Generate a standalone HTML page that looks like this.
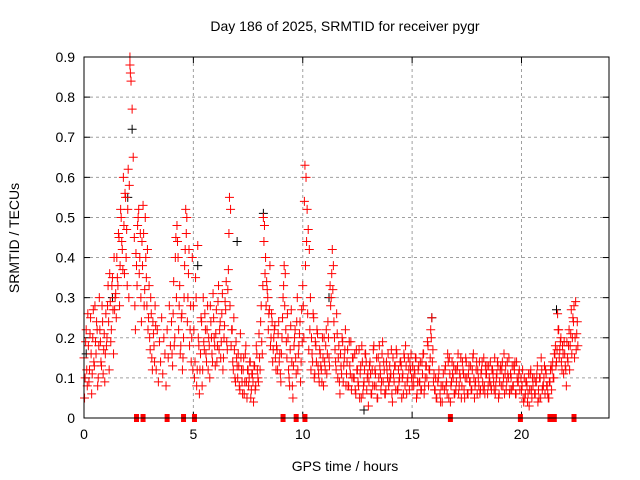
<!DOCTYPE html>
<html><head><meta charset="utf-8"><style>
body{margin:0;background:#fff}
svg{display:block;font-family:"Liberation Sans",sans-serif}
</style></head><body>
<svg id="chart" width="640" height="480">
<text x="345" y="31" text-anchor="middle" font-size="14">Day 186 of 2025, SRMTID for receiver pygr</text>
<text transform="translate(19,238) rotate(-90)" text-anchor="middle" font-size="14">SRMTID / TECUs</text>
<text x="345" y="471" text-anchor="middle" font-size="14">GPS time / hours</text>
<g id="grid"></g>
<g id="ticks"></g>
<g id="marks"></g>
<rect x="84" y="57" width="525" height="361" fill="none" stroke="#000" stroke-width="1"/>
</svg>
<script>
const xTicks=[0,5,10,15,20];
const yTicks=[0,0.1,0.2,0.3,0.4,0.5,0.6,0.7,0.8,0.9];
const times=[0.0,0.05,0.1,0.15,0.2,0.25,0.3,0.35,0.4,0.45,
0.5,0.55,0.6,0.65,0.7,0.75,0.8,0.85,0.9,0.95,
1.0,1.05,1.1,1.15,1.2,1.25,1.3,1.35,1.4,1.45,
1.5,1.55,1.6,1.65,1.7,1.75,1.8,1.85,1.9,1.95,
2.0,2.02,2.05,2.07,2.1,2.1,2.12,2.15,2.2,2.25,
2.3,2.35,2.4,2.45,2.5,2.55,2.6,2.65,2.7,2.75,
2.8,2.85,2.9,2.95,3.0,3.05,3.1,3.15,3.2,3.25,
3.3,3.35,3.4,3.45,3.5,3.55,3.6,3.65,3.7,3.75,
3.8,3.85,3.9,3.95,4.0,4.05,4.1,4.15,4.2,4.25,
4.3,4.35,4.4,4.45,4.5,4.55,4.6,4.65,4.7,4.75,
4.8,4.85,4.9,4.95,5.0,5.05,5.1,5.15,5.2,5.25,
5.3,5.35,5.4,5.45,5.5,5.55,5.6,5.65,5.7,5.75,
5.8,5.85,5.9,5.95,6.0,6.05,6.1,6.15,6.2,6.25,
6.3,6.35,6.4,6.45,6.5,6.55,6.6,6.65,6.7,6.75,
6.8,6.85,6.9,6.95,7.0,7.05,7.1,7.15,7.2,7.25,
7.3,7.35,7.4,7.45,7.5,7.55,7.6,7.65,7.7,7.75,
7.8,7.85,7.9,7.95,8.0,8.05,8.1,8.15,8.2,8.25,
8.3,8.35,8.4,8.45,8.5,8.55,8.6,8.65,8.7,8.75,
8.8,8.85,8.9,8.95,9.0,9.05,9.1,9.15,9.2,9.25,
9.3,9.35,9.4,9.45,9.5,9.55,9.6,9.65,9.7,9.75,
9.8,9.85,9.9,9.95,10.0,10.05,10.1,10.15,10.2,10.25,
10.3,10.35,10.4,10.45,10.5,10.55,10.6,10.65,10.7,10.75,
10.8,10.85,10.9,10.95,11.0,11.05,11.1,11.15,11.2,11.25,
11.3,11.35,11.4,11.45,11.5,11.55,11.6,11.65,11.7,11.75,
11.8,11.85,11.9,11.95,12.0,12.05,12.1,12.15,12.2,12.25,
12.3,12.4,12.5,12.6,12.7,12.8,12.9,13.0,13.1,13.2,
12.35,12.45,12.55,12.65,12.75,12.85,12.95,13.05,13.15,13.25,
13.3,13.4,13.5,13.6,13.7,13.8,13.9,14.0,14.1,14.2,
13.35,13.45,13.55,13.65,13.75,13.85,13.95,14.05,14.15,14.25,
14.3,14.4,14.5,14.6,14.7,14.8,14.9,15.0,15.1,15.2,
14.35,14.45,14.55,14.65,14.75,14.85,14.95,15.05,15.15,15.25,
15.3,15.4,15.5,15.6,15.7,15.8,15.85,15.9,15.95,16.0,
15.35,15.45,15.55,15.65,15.75,16.05,16.1,16.2,16.3,16.4,
16.5,16.6,16.7,16.8,16.9,17.0,17.1,17.2,17.3,17.4,
16.55,16.65,16.75,16.85,16.95,17.05,17.15,17.25,17.35,17.45,
17.5,17.6,17.7,17.8,17.9,18.0,18.1,18.2,18.3,18.4,
17.55,17.65,17.75,17.85,17.95,18.05,18.15,18.25,18.35,18.45,
18.5,18.6,18.7,18.8,18.9,19.0,19.1,19.2,19.3,19.4,
18.55,18.65,18.75,18.85,18.95,19.05,19.15,19.25,19.35,19.45,
19.5,19.6,19.7,19.8,19.9,20.0,20.1,20.2,20.3,20.4,
19.55,19.65,19.75,19.85,20.05,20.15,20.25,20.35,20.45,20.5,
20.6,20.7,20.8,20.9,21.0,21.1,21.2,21.3,21.4,21.5,
20.65,20.75,20.85,20.95,21.05,21.15,21.25,21.35,21.45,21.55,
21.6,21.65,21.7,21.75,21.8,21.85,21.9,21.95,22.0,22.05,
22.1,22.15,22.2,22.25,22.3,22.35,22.4,22.45,22.5,22.55];
const values=[0.15,0.10,0.22,0.08,0.18,0.12,0.25,0.06,0.20,0.14,
0.28,0.16,0.22,0.10,0.30,0.19,0.13,0.24,0.17,0.09,
0.26,0.20,0.33,0.12,0.29,0.22,0.35,0.16,0.27,0.31,
0.40,0.33,0.45,0.38,0.50,0.42,0.60,0.36,0.55,0.47,
0.52,0.62,0.30,0.58,0.90,0.88,0.86,0.84,0.77,0.65,
0.45,0.22,0.38,0.48,0.52,0.40,0.30,0.44,0.53,0.28,
0.50,0.35,0.42,0.25,0.20,0.30,0.15,0.24,0.18,0.28,
0.12,0.22,0.09,0.19,0.14,0.25,0.11,0.20,0.16,0.08,
0.22,0.15,0.28,0.18,0.24,0.13,0.34,0.20,0.45,0.48,
0.40,0.28,0.16,0.25,0.12,0.20,0.38,0.52,0.50,0.30,
0.42,0.22,0.14,0.40,0.28,0.10,0.35,0.08,0.43,0.18,
0.12,0.25,0.08,0.30,0.17,0.22,0.14,0.28,0.20,0.10,
0.24,0.16,0.31,0.20,0.13,0.27,0.18,0.33,0.22,0.15,
0.26,0.12,0.20,0.29,0.34,0.17,0.37,0.55,0.52,0.22,
0.14,0.25,0.10,0.19,0.13,0.16,0.08,0.21,0.12,0.06,
0.15,0.09,0.18,0.05,0.12,0.10,0.14,0.07,0.11,0.04,
0.13,0.08,0.16,0.10,0.21,0.12,0.28,0.16,0.50,0.48,
0.40,0.34,0.30,0.26,0.38,0.20,0.24,0.17,0.22,0.15,
0.18,0.12,0.24,0.16,0.09,0.20,0.30,0.38,0.36,0.19,
0.26,0.12,0.08,0.23,0.14,0.05,0.18,0.22,0.11,0.30,
0.16,0.21,0.09,0.27,0.33,0.20,0.63,0.60,0.52,0.47,
0.42,0.30,0.20,0.14,0.25,0.11,0.18,0.22,0.13,0.09,
0.16,0.12,0.20,0.08,0.14,0.18,0.11,0.24,0.15,0.33,
0.30,0.42,0.38,0.20,0.14,0.26,0.10,0.18,0.06,0.13,
0.20,0.09,0.15,0.22,0.11,0.17,0.08,0.13,0.19,0.10,
0.15,0.07,0.12,0.05,0.18,0.09,0.14,0.03,0.11,0.08,
0.10,0.17,0.08,0.13,0.06,0.16,0.10,0.13,0.06,0.18,
0.12,0.05,0.18,0.09,0.14,0.07,0.16,0.10,0.04,0.13,
0.08,0.15,0.11,0.19,0.06,0.12,0.09,0.17,0.11,0.07,
0.16,0.09,0.13,0.06,0.18,0.10,0.14,0.08,0.12,0.05,
0.07,0.14,0.10,0.15,0.06,0.12,0.16,0.10,0.15,0.09,
0.13,0.07,0.16,0.10,0.19,0.12,0.22,0.25,0.17,0.11,
0.09,0.14,0.06,0.13,0.08,0.07,0.05,0.10,0.04,0.08,
0.12,0.06,0.15,0.09,0.13,0.07,0.16,0.10,0.14,0.05,
0.08,0.14,0.04,0.11,0.06,0.12,0.08,0.05,0.11,0.15,
0.10,0.13,0.07,0.16,0.09,0.12,0.06,0.14,0.08,0.11,
0.06,0.09,0.12,0.05,0.14,0.08,0.11,0.07,0.13,0.06,
0.13,0.08,0.11,0.06,0.14,0.09,0.12,0.16,0.07,0.10,
0.09,0.12,0.07,0.10,0.05,0.13,0.08,0.11,0.14,0.06,
0.11,0.08,0.14,0.10,0.12,0.07,0.04,0.09,0.06,0.11,
0.07,0.13,0.06,0.09,0.12,0.05,0.08,0.03,0.07,0.10,
0.06,0.11,0.05,0.15,0.08,0.12,0.06,0.09,0.12,0.16,
0.09,0.04,0.10,0.07,0.13,0.08,0.05,0.13,0.10,0.18,
0.14,0.26,0.22,0.17,0.20,0.12,0.16,0.19,0.13,0.08,
0.15,0.18,0.12,0.21,0.16,0.25,0.28,0.20,0.17,0.24];
/* second pass of samples: each block starts at denseStarts[k], one sample every 0.05 h offset by 0.025 h */
const denseStarts=[0,1,2.3,4,5,6,7,8,9,10,11,12,13,14,15,16,17,18,19,20,21,22];
const denseValues=[
[0.05,0.19,0.12,0.26,0.09,0.21,0.16,0.11,0.27,0.13,0.19,0.24,0.08,0.18,0.22,0.14,0.28,0.11,0.21,0.16],
[0.18,0.28,0.24,0.36,0.19,0.33,0.27,0.40,0.30,0.25,0.35,0.46,0.28,0.52,0.44,0.37,0.48,0.56,0.40,0.33],
[0.28,0.41,0.33,0.50,0.36,0.46,0.24,0.38,0.46,0.32,0.40,0.28,0.22,0.33,0.17,0.26,0.12,0.21,0.14,0.23],
[0.16,0.26,0.18,0.40,0.30,0.44,0.22,0.33,0.18,0.26,0.15,0.30,0.42,0.46,0.24,0.36,0.18,0.28,0.20,0.12],
[0.22,0.14,0.30,0.12,0.20,0.06,0.16,0.24,0.12,0.19,0.26,0.16,0.22,0.12,0.18,0.28,0.20,0.14,0.25,0.18],
[0.21,0.14,0.29,0.17,0.24,0.19,0.31,0.15,0.23,0.27,0.19,0.32,0.46,0.28,0.18,0.22,0.12,0.17,0.09,0.15],
[0.10,0.13,0.07,0.15,0.09,0.12,0.06,0.16,0.09,0.12,0.08,0.14,0.05,0.11,0.09,0.13,0.07,0.18,0.12,0.09],
[0.15,0.24,0.19,0.33,0.44,0.36,0.28,0.32,0.22,0.27,0.18,0.26,0.14,0.20,0.23,0.12,0.17,0.21,0.14,0.11],
[0.16,0.25,0.33,0.28,0.22,0.15,0.20,0.10,0.17,0.27,0.08,0.13,0.20,0.15,0.24,0.12,0.18,0.24,0.14,0.19],
[0.28,0.54,0.38,0.44,0.26,0.17,0.22,0.12,0.16,0.26,0.10,0.19,0.14,0.21,0.11,0.17,0.13,0.09,0.15,0.20],
[0.12,0.22,0.16,0.20,0.13,0.28,0.36,0.32,0.24,0.17,0.12,0.21,0.15,0.09,0.16,0.11,0.19,0.13,0.17,0.08],
[0.14,0.08,0.19,0.11,0.07,0.15,0.10,0.16,0.06,0.12,0.09,0.17,0.11,0.05,0.14,0.08,0.12,0.16,0.07,0.11],
[0.09,0.14,0.06,0.12,0.17,0.08,0.11,0.15,0.05,0.10,0.13,0.07,0.16,0.09,0.12,0.06,0.14,0.10,0.08,0.13],
[0.11,0.06,0.15,0.09,0.13,0.17,0.07,0.12,0.10,0.14,0.05,0.11,0.16,0.08,0.13,0.09,0.15,0.07,0.12,0.10],
[0.13,0.08,0.11,0.15,0.06,0.12,0.09,0.14,0.07,0.11,0.16,0.08,0.13,0.10,0.18,0.12,0.15,0.20,0.14,0.09],
[0.07,0.10,0.05,0.09,0.12,0.06,0.08,0.04,0.11,0.07,0.13,0.09,0.16,0.05,0.11,0.08,0.14,0.10,0.06,0.12],
[0.09,0.13,0.06,0.11,0.15,0.08,0.12,0.07,0.10,0.14,0.06,0.11,0.09,0.13,0.07,0.15,0.10,0.08,0.12,0.06],
[0.10,0.14,0.07,0.12,0.09,0.15,0.06,0.11,0.13,0.08,0.10,0.14,0.07,0.12,0.09,0.15,0.08,0.11,0.13,0.06],
[0.12,0.08,0.14,0.10,0.06,0.13,0.09,0.11,0.15,0.07,0.10,0.13,0.08,0.12,0.06,0.14,0.09,0.11,0.07,0.10],
[0.08,0.05,0.10,0.06,0.09,0.04,0.11,0.07,0.12,0.05,0.08,0.10,0.06,0.09,0.13,0.07,0.10,0.05,0.12,0.08],
[0.10,0.06,0.11,0.08,0.05,0.09,0.12,0.07,0.14,0.10,0.16,0.13,0.17,0.22,0.15,0.19,0.14,0.18,0.11,0.16],
[0.12,0.19,0.14,0.22,0.18,0.27,0.20,0.24,0.15,0.29,0.21,0.18]];
const blackTimes=[0.1,1.3,2.0,2.2,5.2,7.0,8.2,11.2,12.8,15.9,21.6];
const blackValues=[0.16,0.30,0.55,0.72,0.38,0.44,0.51,0.30,0.02,0.25,0.27];
const gapTimes=[2.4,2.7,3.8,4.55,5.05,9.1,9.7,10.1,16.75,19.95,21.3,21.5,22.4];

const NS='http://www.w3.org/2000/svg';
const L=84,R=609,T=57,B=418,XMAX=24,YMAX=0.9;
function xs(t){return L+(t/XMAX)*(R-L);}
function ys(v){return B-(v/YMAX)*(B-T);}
const grid=document.getElementById('grid');
const ticks=document.getElementById('ticks');
const marks=document.getElementById('marks');
function mk(tag,attrs,parent){const e=document.createElementNS(NS,tag);for(const k in attrs)e.setAttribute(k,attrs[k]);parent.appendChild(e);return e;}
xTicks.forEach(t=>{
  const x=xs(t);
  if(t>0){
    const g=mk('line',{x1:x,x2:x,y1:T,y2:B,stroke:'#a0a0a0','stroke-dasharray':'3,3'},grid);
    
    
  }
  mk('line',{x1:x,x2:x,y1:B,y2:B-6,stroke:'#000'},ticks);
  mk('line',{x1:x,x2:x,y1:T,y2:T+6,stroke:'#000'},ticks);
  const lb=mk('text',{x:x,y:B+21,'text-anchor':'middle','font-size':'14'},ticks);
  lb.textContent=t;
  
  
});
yTicks.forEach(v=>{
  const y=ys(v);
  if(v>0&&v<YMAX){
    const g=mk('line',{x1:L,x2:R,y1:y,y2:y,stroke:'#a0a0a0','stroke-dasharray':'3,3'},grid);
    
    
  }
  mk('line',{x1:L,x2:L+6,y1:y,y2:y,stroke:'#000'},ticks);
  mk('line',{x1:R,x2:R-6,y1:y,y2:y,stroke:'#000'},ticks);
  const lb=mk('text',{x:L-9,y:y+5,'text-anchor':'end','font-size':'14'},ticks);
  lb.textContent=v===0?'0':v.toFixed(1);
  
  
});
function cross(t,v,c){
  const x=xs(t),y=ys(v);
  return mk('path',{d:`M${x-4.5},${y}h9M${x},${y-4.5}v9`,stroke:c,'stroke-width':'1',fill:'none'},marks);
}
blackTimes.forEach((t,i)=>{
  const p=cross(t,blackValues[i],'#000');
  
  
});
times.forEach((t,i)=>{
  const p=cross(t,values[i],'#f00');
  
  
});
denseStarts.forEach((s,k)=>{
  denseValues[k].forEach((v,i)=>{
    const p=cross(s+0.025+0.05*i,v,'#f00');
    
    
  });
});
gapTimes.forEach(t=>{
  const r=mk('rect',{x:xs(t)-2.5,y:B-4,width:5,height:8,fill:'#f00'},marks);
  
  
});
</script>
</body></html>
